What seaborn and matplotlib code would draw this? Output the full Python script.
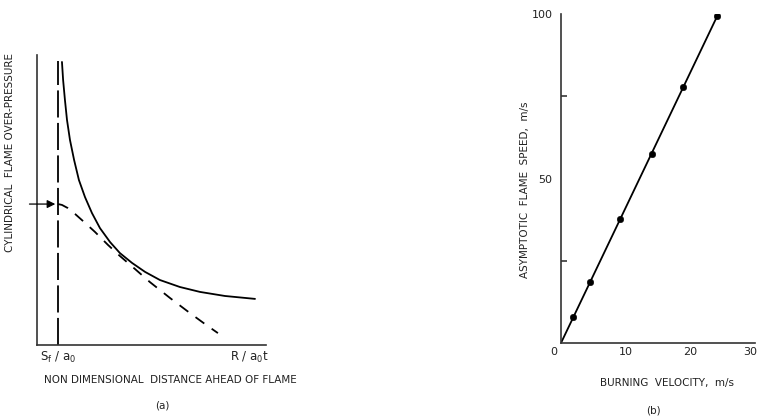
import matplotlib
matplotlib.use("Agg")
import matplotlib.pyplot as plt
import seaborn as sns
import pandas as pd

# ---------- data ----------
# panel (a): schematic curves (arbitrary non-dimensional units, 0-100)
solid_x = [10.9, 11.4, 12.2, 13.1, 14.4, 16.2, 18.3, 20.96, 24.0, 27.5, 31.9,
           36.2, 41.5, 47.2, 53.7, 62.4, 71.2, 82.1, 95.2]
solid_y = [97.6, 91.4, 84.5, 77.6, 70.7, 63.8, 56.9, 51.0, 45.5, 40.3, 35.5,
           31.7, 28.3, 25.2, 22.4, 20.0, 18.3, 16.9, 15.9]
dash_x = [9.2, 10.9, 13.5, 16.6, 21.0, 25.3, 31.0, 36.2, 42.8, 49.3, 58.1,
          66.8, 73.4, 79.0]
dash_y = [48.6, 48.3, 47.2, 45.2, 42.1, 39.0, 34.5, 30.7, 26.2, 21.7, 16.2,
          11.0, 7.2, 4.1]
sf_x = 9.2
arrow_y = 48.6

# panel (b): burning velocity vs asymptotic flame speed
burn_vel = [1.9, 4.5, 9.2, 14.0, 18.9, 24.2]
flame_speed = [7.8, 18.5, 37.8, 57.5, 77.7, 99.5]
fit_x = [0.0, 24.8]
fit_y = [0.0, 102.0]
x_ticks_b = [0, 10, 20, 30]
y_ticks_b = [0, 50, 100]

sns.set_style("white")
plt.rcParams['font.family'] = ['Liberation Sans Narrow', 'DejaVu Sans']
plt.rcParams['axes.linewidth'] = 1.2

fig = plt.figure(figsize=(7.59, 4.19), dpi=100)
fs = 7.5
tc = "#222222"

# ---------- panel (a) ----------
axa = fig.add_axes([37/759, 1-345/419, (266-37)/759, (345-55)/419])
dfs = pd.DataFrame({"x": solid_x, "y": solid_y})
dfd = pd.DataFrame({"x": dash_x, "y": dash_y})
sns.lineplot(data=dfs, x="x", y="y", ax=axa, color="black", lw=1.3, sort=False)
sns.lineplot(data=dfd, x="x", y="y", ax=axa, color="black", lw=1.3, sort=False,
             linestyle=(0, (6, 5)))
axa.plot([sf_x, sf_x], [0, 97.9], color="black", lw=1.3, linestyle=(0, (15, 3)))
axa.annotate("", xy=(sf_x, arrow_y), xytext=(-4.5, arrow_y),
             arrowprops=dict(arrowstyle="-|>", color="black", lw=0.9,
                             mutation_scale=12), annotation_clip=False)
axa.set_xlim(0, 100)
axa.set_ylim(0, 100)
axa.set_xticks([])
axa.set_yticks([])
axa.set_xlabel("")
axa.set_ylabel("")
for s in ["top", "right"]:
    axa.spines[s].set_visible(False)
for s in ["left", "bottom"]:
    axa.spines[s].set_color("#333333")

fig.text(10/759, 1-152/419, "CYLINDRICAL  FLAME OVER-PRESSURE", rotation=90,
         ha="center", va="center", fontsize=fs, color=tc)
fig.text(40/759, 1-357/419, r"S$_\mathsf{f}$ / a$_\mathsf{0}$", ha="left", va="center",
         fontsize=fs + 1, color=tc)
fig.text(230/759, 1-357/419, r"R / a$_\mathsf{0}$t", ha="left", va="center",
         fontsize=fs + 1, color=tc)
fig.text(170/759, 1-380/419, "NON DIMENSIONAL  DISTANCE AHEAD OF FLAME",
         ha="center", va="center", fontsize=fs, color=tc)
fig.text(162/759, 1-405/419, "(a)", ha="center", va="center", fontsize=fs,
         color=tc)

# ---------- panel (b) ----------
axb = fig.add_axes([561/759, 1-343/419, (755-561)/759, (343-14)/419])
dfp = pd.DataFrame({"u": burn_vel, "v": flame_speed})
dff = pd.DataFrame({"u": fit_x, "v": fit_y})
sns.lineplot(data=dff, x="u", y="v", ax=axb, color="black", lw=1.3)
sns.scatterplot(data=dfp, x="u", y="v", ax=axb, color="black", s=22,
                edgecolor="black", zorder=5)
axb.set_xlim(0, 30)
axb.set_ylim(0, 100)
for s in ["top", "right"]:
    axb.spines[s].set_visible(False)
for s in ["left", "bottom"]:
    axb.spines[s].set_color("#333333")
axb.set_xticks(x_ticks_b)
axb.set_xticklabels(["", "10", "20", ""], fontsize=fs + 0.5, color=tc)
axb.set_yticks(y_ticks_b)
axb.set_yticklabels(["", "50", "100"], fontsize=fs + 0.5, color=tc)
axb.set_yticks([25, 75], minor=True)
axb.tick_params(axis="x", direction="in", length=4, width=1.1, pad=3)
axb.tick_params(axis="y", which="major", direction="out", length=4, width=1.1, pad=2)
axb.tick_params(axis="y", which="minor", direction="in", length=4, width=1.1, left=True)
axb.set_xlabel("")
axb.set_ylabel("")
fig.text(554/759, 1-352/419, "0", ha="center", va="center", fontsize=fs + 0.5,
         color=tc)
fig.text(750/759, 1-352/419, "30", ha="center", va="center", fontsize=fs + 0.5,
         color=tc)
fig.text(525/759, 1-190/419, "ASYMPTOTIC  FLAME  SPEED,  m/s", rotation=90,
         ha="center", va="center", fontsize=fs, color=tc)
fig.text(667/759, 1-383/419, "BURNING  VELOCITY,  m/s", ha="center", va="center",
         fontsize=fs, color=tc)
fig.text(653/759, 1-410/419, "(b)", ha="center", va="center", fontsize=fs,
         color=tc)

fig.savefig("out.png", dpi=100)
